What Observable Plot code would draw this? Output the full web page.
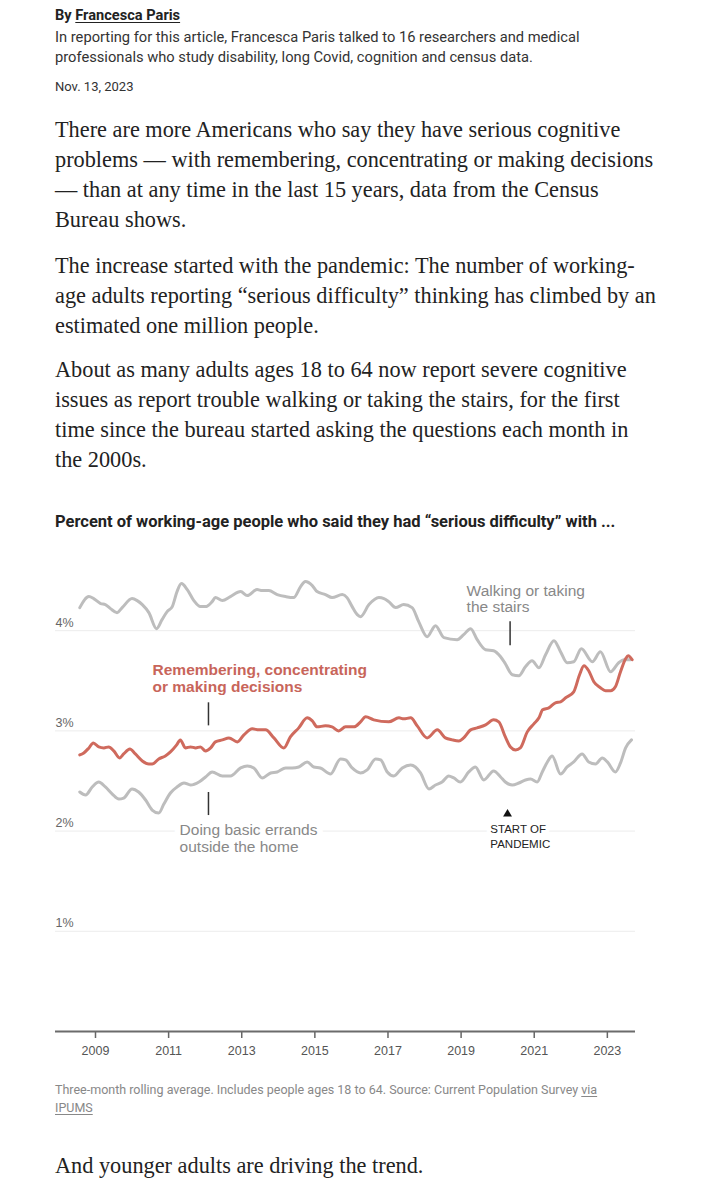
<!DOCTYPE html>
<html>
<head>
<meta charset="utf-8">
<script src="https://cdn.jsdelivr.net/npm/d3@7"></script>
<script src="https://cdn.jsdelivr.net/npm/@observablehq/plot@0.6"></script>
<style>
  html, body { margin: 0; padding: 0; background: #fff; }
  body { width: 707px; height: 1193px; position: relative; overflow: hidden; color: #333; }
  .abs { position: absolute; left: 55px; white-space: nowrap; }
  .sans { font-family: "Roboto", sans-serif; }
  .serif { font-family: "Liberation Serif", serif; color: #222; font-size: 22.3px; line-height: 30px; }
  .byline { top: 6px; font-size: 14.6px; font-weight: bold; line-height: 18px; color: #222; }
  .byline u { text-underline-offset: 2px; }
  .desc { top: 27px; font-size: 14.7px; line-height: 20px; color: #333; }
  .date { top: 79px; font-size: 13px; line-height: 16px; color: #333; }
  .title { top: 512px; font-size: 16.5px; font-weight: bold; line-height: 20px; color: #222; }
  .caption { top: 1081px; font-size: 12.5px; line-height: 18px; color: #888; }
  .caption u { text-underline-offset: 2px; }
  #chart { position: absolute; left: 0; top: 545px; }
</style>
</head>
<body>
<div class="abs sans byline">By <u>Francesca Paris</u></div>
<div class="abs sans desc">In reporting for this article, Francesca Paris talked to 16 researchers and medical<br>professionals who study disability, long Covid, cognition and census data.</div>
<div class="abs sans date">Nov. 13, 2023</div>
<div class="abs serif" style="top:115px">There are more Americans who say they have serious cognitive<br>problems — with remembering, concentrating or making decisions<br>— than at any time in the last 15 years, data from the Census<br>Bureau shows.</div>
<div class="abs serif" style="top:251px">The increase started with the pandemic: The number of working-<br>age adults reporting “serious difficulty” thinking has climbed by an<br>estimated one million people.</div>
<div class="abs serif" style="top:355px">About as many adults ages 18 to 64 now report severe cognitive<br>issues as report trouble walking or taking the stairs, for the first<br>time since the bureau started asking the questions each month in<br>the 2000s.</div>
<div class="abs sans title">Percent of working-age people who said they had “serious difficulty” with ...</div>
<div id="chart"></div>
<div class="abs sans caption">Three-month rolling average. Includes people ages 18 to 64. Source: Current Population Survey <u>via</u><br><u>IPUMS</u></div>
<div class="abs serif" style="top:1151px">And younger adults are driving the trend.</div>

<script>
// ---- Data (decimal year, percent) ----
const walking = [
  [2008.57,4.23],[2008.82,4.34],[2008.95,4.32],[2009.14,4.27],[2009.27,4.26],[2009.41,4.22],
  [2009.59,4.18],[2009.73,4.23],[2010.00,4.32],[2010.14,4.30],[2010.28,4.26],[2010.46,4.18],
  [2010.67,4.02],[2010.82,4.11],[2010.96,4.19],[2011.10,4.24],[2011.23,4.39],[2011.35,4.47],
  [2011.51,4.41],[2011.69,4.30],[2011.87,4.24],[2012.01,4.24],[2012.19,4.29],[2012.28,4.33],
  [2012.47,4.30],[2012.69,4.34],[2012.97,4.39],[2013.15,4.35],[2013.42,4.41],[2013.56,4.40],
  [2013.74,4.40],[2013.97,4.36],[2014.20,4.34],[2014.42,4.33],[2014.61,4.44],[2014.74,4.49],
  [2014.93,4.45],[2015.06,4.39],[2015.29,4.36],[2015.47,4.33],[2015.75,4.36],[2015.88,4.33],
  [2016.02,4.24],[2016.16,4.16],[2016.25,4.14],[2016.48,4.26],[2016.75,4.33],[2016.89,4.32],
  [2017.02,4.29],[2017.21,4.23],[2017.43,4.26],[2017.66,4.23],[2017.84,4.09],[2018.07,3.94],
  [2018.30,4.05],[2018.53,3.93],[2018.89,3.91],[2019.07,3.96],[2019.26,4.02],[2019.44,3.91],
  [2019.67,3.81],[2019.89,3.80],[2020.08,3.74],[2020.21,3.67],[2020.40,3.56],[2020.58,3.55],
  [2020.76,3.64],[2020.94,3.70],[2021.13,3.63],[2021.31,3.76],[2021.54,3.90],[2021.72,3.79],
  [2021.90,3.68],[2022.08,3.69],[2022.29,3.82],[2022.59,3.69],[2022.81,3.79],[2023.09,3.59],
  [2023.31,3.68],[2023.45,3.71],[2023.63,3.71]
];
const cognitive = [
  [2008.57,2.76],[2008.68,2.78],[2008.82,2.83],[2008.94,2.88],[2009.09,2.84],[2009.23,2.83],
  [2009.36,2.84],[2009.50,2.80],[2009.66,2.73],[2009.77,2.77],[2009.94,2.82],[2010.09,2.77],
  [2010.28,2.70],[2010.46,2.67],[2010.55,2.67],[2010.73,2.72],[2010.91,2.75],[2011.05,2.79],
  [2011.22,2.86],[2011.32,2.91],[2011.46,2.83],[2011.60,2.84],[2011.74,2.83],[2011.87,2.84],
  [2012.01,2.80],[2012.15,2.83],[2012.28,2.89],[2012.47,2.91],[2012.65,2.93],[2012.88,2.89],
  [2013.06,2.96],[2013.29,3.02],[2013.47,3.01],[2013.65,3.01],[2013.88,2.93],[2014.15,2.83],
  [2014.33,2.94],[2014.56,3.03],[2014.79,3.13],[2014.93,3.10],[2015.06,3.04],[2015.29,3.05],
  [2015.47,3.04],[2015.65,3.00],[2015.84,3.04],[2016.07,3.04],[2016.25,3.09],[2016.39,3.14],
  [2016.61,3.11],[2017.02,3.09],[2017.30,3.13],[2017.43,3.12],[2017.62,3.13],[2017.80,3.05],
  [2018.07,2.93],[2018.35,3.01],[2018.57,2.93],[2018.76,2.91],[2018.94,2.90],[2019.07,2.93],
  [2019.26,3.01],[2019.44,3.03],[2019.67,3.06],[2019.89,3.11],[2020.03,3.09],[2020.21,2.94],
  [2020.35,2.84],[2020.49,2.81],[2020.62,2.83],[2020.81,2.99],[2020.99,3.07],[2021.13,3.13],
  [2021.23,3.21],[2021.40,3.23],[2021.58,3.28],[2021.72,3.29],[2021.86,3.33],[2022.08,3.39],
  [2022.24,3.56],[2022.36,3.65],[2022.49,3.60],[2022.63,3.49],[2022.81,3.43],[2022.95,3.40],
  [2023.09,3.40],[2023.22,3.44],[2023.36,3.59],[2023.50,3.72],[2023.57,3.75],[2023.68,3.71]
];
const errands = [
  [2008.57,2.39],[2008.73,2.36],[2008.91,2.44],[2009.09,2.49],[2009.27,2.44],[2009.46,2.37],
  [2009.64,2.32],[2009.77,2.33],[2010.00,2.42],[2010.18,2.39],[2010.37,2.31],[2010.55,2.21],
  [2010.73,2.18],[2010.87,2.27],[2011.05,2.38],[2011.23,2.44],[2011.42,2.48],[2011.60,2.46],
  [2011.83,2.49],[2012.01,2.54],[2012.19,2.59],[2012.47,2.55],[2012.69,2.55],[2012.97,2.63],
  [2013.15,2.65],[2013.33,2.63],[2013.56,2.53],[2013.79,2.58],[2013.97,2.59],[2014.20,2.63],
  [2014.38,2.63],[2014.56,2.64],[2014.79,2.69],[2014.97,2.64],[2015.15,2.63],[2015.43,2.57],
  [2015.70,2.72],[2015.84,2.71],[2016.02,2.63],[2016.25,2.58],[2016.43,2.61],[2016.66,2.72],
  [2016.80,2.71],[2016.98,2.59],[2017.16,2.55],[2017.39,2.63],[2017.62,2.66],[2017.75,2.64],
  [2017.89,2.58],[2018.12,2.42],[2018.30,2.46],[2018.48,2.49],[2018.66,2.55],[2018.80,2.53],
  [2018.98,2.49],[2019.21,2.59],[2019.39,2.64],[2019.62,2.51],[2019.89,2.60],[2020.08,2.54],
  [2020.21,2.49],[2020.40,2.46],[2020.58,2.48],[2020.76,2.51],[2020.90,2.52],[2021.08,2.49],
  [2021.22,2.59],[2021.36,2.69],[2021.49,2.75],[2021.72,2.57],[2021.90,2.64],[2022.08,2.69],
  [2022.31,2.77],[2022.49,2.69],[2022.68,2.67],[2022.86,2.73],[2023.00,2.69],[2023.22,2.59],
  [2023.36,2.68],[2023.50,2.83],[2023.66,2.91]
];
const xTicks = [2009, 2011, 2013, 2015, 2017, 2019, 2021, 2023];
const yTicks = [1, 2, 3, 4];
const yTickLabels = ["1%", "2%", "3%", "4%"];

const toRows = (arr) => arr.map(([year, value]) => ({year, value}));
const gray = "#bdbdbd";
const red = "#cf6a5d";
const sans = "'Liberation Sans', Arial, sans-serif";
const xDomain = [2007.906, 2023.77];

const errandsLabel = ["Doing basic errands", "outside the home"];
const pandemicLabel = ["START OF", "PANDEMIC"];
const errandsOpts = {x: 2011.30, y: (d, i) => 2.013 - i * 0.17, text: d => d, textAnchor: "start", fontSize: 15.5};
const pandemicOpts = {x: 2019.80, y: (d, i) => 2.013 - i * 0.15, text: d => d, textAnchor: "start", fontSize: 11.5};

const chart = Plot.plot({
  width: 707,
  height: 516,
  marginLeft: 55,
  marginRight: 72,
  marginTop: 5,
  marginBottom: 30,
  style: {fontFamily: sans, fontSize: "12px", color: "#555", background: "transparent", overflow: "visible"},
  x: {domain: xDomain, label: null},
  y: {domain: [0, 4.8], label: null, axis: null},
  marks: [
    Plot.ruleY(yTicks, {stroke: "#ececec", strokeWidth: 1}),
    Plot.text(yTicks, {x: xDomain[0], y: d => d, text: (d, i) => yTickLabels[i], textAnchor: "start", dy: -8, fill: "#666", fontSize: 12.5}),
    Plot.axisX({ticks: xTicks, tickFormat: d => String(d), tickSize: 7, tickPadding: 8, stroke: "#666", strokeWidth: 1.5, fontSize: 12.5, fill: "#555"}),
    Plot.ruleY([0], {stroke: "#6b6b6b", strokeWidth: 2}),
    // white backgrounds behind the labels that sit on the gridline
    Plot.text(errandsLabel, {...errandsOpts, fill: "white", stroke: "white", strokeWidth: 12}),
    Plot.text(pandemicLabel, {...pandemicOpts, fill: "white", stroke: "white", strokeWidth: 8}),
    Plot.line(toRows(walking), {x: "year", y: "value", stroke: gray, strokeWidth: 3, curve: "monotone-x"}),
    Plot.line(toRows(errands), {x: "year", y: "value", stroke: gray, strokeWidth: 3, curve: "monotone-x"}),
    Plot.line(toRows(cognitive), {x: "year", y: "value", stroke: red, strokeWidth: 3, curve: "monotone-x"}),
    // annotations
    Plot.text(["Walking or taking", "the stairs"], {x: 2019.15, y: (d, i) => 4.40 - i * 0.165, text: d => d, textAnchor: "start", fill: "#888", fontSize: 15.5}),
    Plot.ruleX([2020.34], {y1: 3.85, y2: 4.09, stroke: "#333", strokeWidth: 1.5}),
    Plot.text(["Remembering, concentrating", "or making decisions"], {x: 2010.56, y: (d, i) => 3.61 - i * 0.175, text: d => d, textAnchor: "start", fill: "#c8655a", fontWeight: "bold", fontSize: 15.5}),
    Plot.ruleX([2012.09], {y1: 3.05, y2: 3.28, stroke: "#333", strokeWidth: 1.5}),
    Plot.ruleX([2012.09], {y1: 2.155, y2: 2.385, stroke: "#333", strokeWidth: 1.5}),
    Plot.text(errandsLabel, {...errandsOpts, fill: "#888"}),
    Plot.dot([2020.27], {x: d => d, y: 2.17, symbol: "triangle", r: 3.3, fill: "#111", stroke: null}),
    Plot.text(pandemicLabel, {...pandemicOpts, fill: "#222"})
  ]
});
document.getElementById("chart").appendChild(chart);
</script>
</body>
</html>
